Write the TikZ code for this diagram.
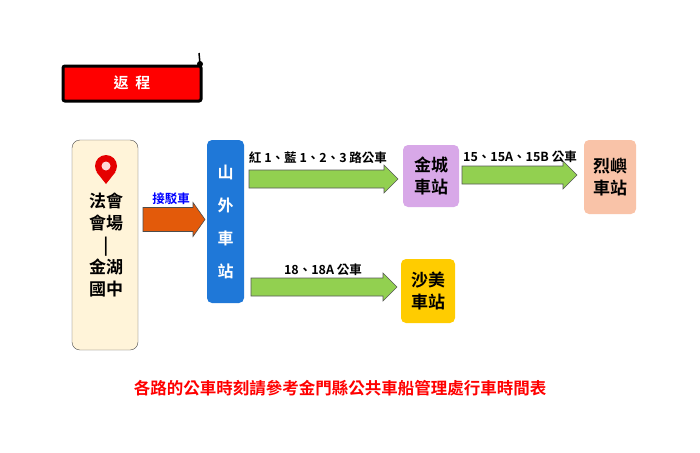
\documentclass[tikz,border=0pt]{standalone}
\usepackage{fontspec}
\setmainfont{Noto Sans CJK TC}[BoldFont={* Bold}]
\usetikzlibrary{positioning}
\definecolor{venue}{HTML}{FFF4D9}
\definecolor{sanblue}{HTML}{1F78D8}
\definecolor{busgreen}{HTML}{92D050}
\definecolor{shuttle}{HTML}{E35A0A}
\definecolor{jincheng}{HTML}{D8A8E8}
\definecolor{lieyu}{HTML}{F9C3A8}
\definecolor{shamei}{HTML}{FFCC00}
% block arrow: start coordinate, length, half body, half head, head length
\newcommand{\blockarrow}[6]{%
  \filldraw[#1] (#2) -- ++(0,-#4) -- ++(#3-#6,0) -- ++(0,-#5+#4) -- ++(#6,#5)
    -- ++(-#6,#5) -- ++(0,-#5+#4) -- ++(-#3+#6,0) -- cycle;}
\begin{document}
\begin{tikzpicture}[x=1pt,y=-1pt,
font=\fontsize{17}{22}\selectfont\bfseries,
station/.style={draw=none,rounded corners=5pt,align=center,inner sep=0pt},
busarrow/.style={draw=gray!70!black,fill=busgreen,line width=0.6pt},
lbl/.style={font=\fontsize{12.5}{14}\selectfont\bfseries,inner sep=1pt}]
\useasboundingbox (0,0) rectangle (700,452);
% banner
\draw[line width=3pt,fill=red,rounded corners=2pt] (63,66) rectangle (201,101);
\fill (200,64) circle (3pt);
\draw[line width=1.5pt] (200,64) -- (199,53);
\node[text=white,font=\fontsize{15}{18}\selectfont\bfseries] (title) at (132,83) {返\ \ 程};
% venue
\node[draw=gray!60!black,fill=venue,rounded corners=8pt,minimum width=66pt,minimum height=210pt] (venue) at (105,245) {};
\fill[red!90!black] (106,166) circle (11);
\fill[red!90!black] (96.5,172) -- (106,184) -- (115.5,172) -- cycle;
\fill[white!85!red] (106,166) circle (4.5);
\node[align=center,font=\fontsize{17}{22}\selectfont\bfseries] (vname) at (106,245) {法會\\會場\\|\\金湖\\國中};
% stations
\node[station,fill=sanblue,text=white,minimum width=37pt,minimum height=163pt,font=\fontsize{16}{33}\selectfont\bfseries] (shanwai) at (225.5,221.5) {山\\外\\車\\站};
\node[station,fill=jincheng,minimum width=56pt,minimum height=62pt] (jin) at (431,176) {金城\\車站};
\node[station,fill=lieyu,minimum width=52pt,minimum height=74pt] (lie) at (610,177) {烈嶼\\車站};
\node[station,fill=shamei,minimum width=54pt,minimum height=64pt] (sha) at (428,291) {沙美\\車站};
% arrows
\coordinate (s0) at (143,219.5);
\coordinate (b1) at (249,179);
\coordinate (b2) at (462,175);
\coordinate (b3) at (251,287);
\blockarrow{draw=gray!60!black,fill=shuttle,line width=0.6pt}{s0}{62}{12}{17}{12}
\node[lbl,text=blue] (shuttlelbl) at (171,199) {接駁車};
\blockarrow{busarrow}{b1}{149}{9}{14}{14}
\node[lbl] (bus1lbl) at (318,158) {紅 1、藍 1、2、3 路公車};
\blockarrow{busarrow}{b2}{115}{9}{14}{14}
\node[lbl] (bus2lbl) at (520,157) {15、15A、15B 公車};
\blockarrow{busarrow}{b3}{146}{9}{14}{14}
\node[lbl] (bus3lbl) at (323,270) {18、18A 公車};
% note
\node[text=red,font=\fontsize{16.5}{18}\selectfont\bfseries] (note) at (340,388) {各路的公車時刻請參考金門縣公共車船管理處行車時間表};
\end{tikzpicture}
\end{document}
